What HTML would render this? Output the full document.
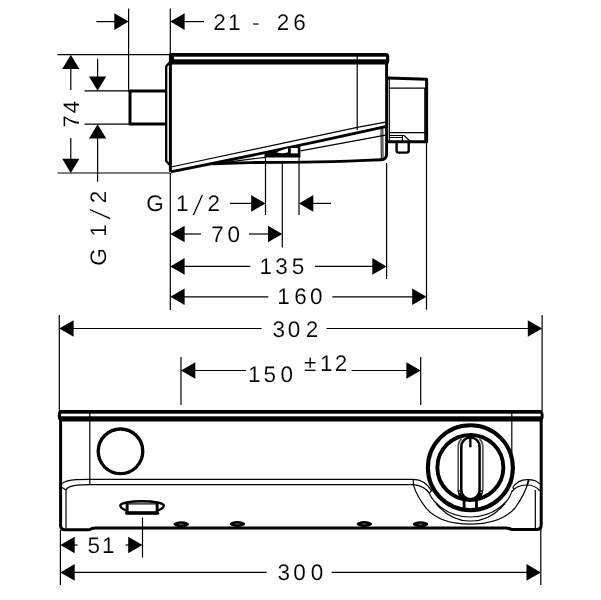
<!DOCTYPE html>
<html>
<head>
<meta charset="utf-8">
<title>Dimension drawing</title>
<style>
html,body{margin:0;padding:0;background:#fff;}
body{width:601px;height:600px;overflow:hidden;font-family:"Liberation Sans",sans-serif;}
svg{display:block;position:absolute;left:0;top:0;}
svg text{text-rendering:geometricPrecision;font-family:"Liberation Sans",sans-serif;font-size:22.5px;fill:#000;letter-spacing:0;stroke:#fff;stroke-width:0.12px;}
.t{stroke:#000;stroke-width:1.2;fill:none;}
.m{stroke:#000;stroke-width:1.6;fill:none;}
.k{stroke:#000;stroke-width:3;fill:none;stroke-linejoin:round;}
.a{fill:#000;stroke:none;}
</style>
</head>
<body>
<svg width="601" height="600" viewBox="0 0 601 600">
<rect x="0" y="0" width="601" height="600" fill="#fff"/>

<!-- ============ SIDE VIEW : extension / dimension lines ============ -->
<g class="t">
  <line x1="128.6" y1="8.4" x2="128.6" y2="92"/>
  <line x1="170.3" y1="8.4" x2="170.3" y2="54"/>
  <line x1="96.4" y1="21.6" x2="115" y2="21.6"/>
  <line x1="184" y1="21.6" x2="204" y2="21.6"/>
  <line x1="57.5" y1="54.7" x2="170" y2="54.7"/>
  <line x1="57.5" y1="173" x2="170" y2="173"/>
  <line x1="84.5" y1="90.8" x2="129" y2="90.8"/>
  <line x1="84.5" y1="124.2" x2="129" y2="124.2"/>
  <line x1="70.8" y1="68" x2="70.8" y2="90"/>
  <line x1="70.8" y1="138" x2="70.8" y2="160"/>
  <line x1="97.6" y1="58.8" x2="97.6" y2="78"/>
  <line x1="97.6" y1="138" x2="97.6" y2="181.7"/>
  <line x1="170.3" y1="173" x2="170.3" y2="310"/>
  <line x1="265.5" y1="157" x2="265.5" y2="215"/>
  <line x1="282.3" y1="159" x2="282.3" y2="247.5"/>
  <line x1="299" y1="157" x2="299" y2="215"/>
  <line x1="386.6" y1="163" x2="386.6" y2="279"/>
  <line x1="426.5" y1="143" x2="426.5" y2="309.7"/>
  <line x1="230" y1="203.4" x2="252" y2="203.4"/>
  <line x1="313" y1="203.4" x2="331" y2="203.4"/>
  <line x1="184" y1="234" x2="201" y2="234"/>
  <line x1="249" y1="234" x2="269" y2="234"/>
  <line x1="184" y1="266.4" x2="250.3" y2="266.4"/>
  <line x1="315" y1="266.4" x2="373" y2="266.4"/>
  <line x1="184" y1="296.8" x2="268.3" y2="296.8"/>
  <line x1="332.3" y1="296.8" x2="413" y2="296.8"/>
</g>
<g class="a">
  <polygon points="128.6,21.6 114.3,13.3 114.3,29.9"/>
  <polygon points="170.3,21.6 184.6,13.3 184.6,29.9"/>
  <polygon points="70.8,54.7 62.2,69 79.4,69"/>
  <polygon points="70.8,173 62.2,158.7 79.4,158.7"/>
  <polygon points="97.6,90.8 89.0,76.5 106.2,76.5"/>
  <polygon points="97.6,124.2 89.0,138.5 106.2,138.5"/>
  <polygon points="265.5,203.4 251.2,195.1 251.2,211.7"/>
  <polygon points="299,203.4 313.3,195.1 313.3,211.7"/>
  <polygon points="170.3,234 184.6,225.7 184.6,242.3"/>
  <polygon points="282.3,234 268.0,225.7 268.0,242.3"/>
  <polygon points="170.3,266.4 184.6,258.1 184.6,274.7"/>
  <polygon points="386.6,266.4 372.3,258.1 372.3,274.7"/>
  <polygon points="170.3,296.8 184.6,288.5 184.6,305.1"/>
  <polygon points="426.5,296.8 412.2,288.5 412.2,305.1"/>
</g>

<!-- ============ SIDE VIEW : body ============ -->
<!-- inlet nub -->
<path class="k" d="M166 91.1 H130 V124 H166"/>
<!-- left bracket thin -->
<path class="m" d="M169.6 62.6 L166.2 66.2 V161 L169.6 164.6" style="stroke-width:2.3;stroke-linejoin:round"/>
<!-- left thick edge -->
<path class="k" d="M170.4 55 V172"/>
<!-- top plate -->
<path class="a" d="M169.2 53 H386 Q389.2 53 389.2 56.5 V61 Q389.2 64.5 386 64.5 H169.2 Z"/>
<rect x="174" y="56.7" width="212" height="2.6" fill="#fff"/>
<!-- right edge + bottom -->
<path class="k" d="M386.6 62 V154 Q386.6 159.7 381 159.8 L365 160.4 Q330 162 305 162.1 L250 162.6 L213 163.8" style="stroke-width:2.9"/>
<!-- slanted thick -->
<path class="k" d="M170.6 171.8 Q278 150.5 385.5 126.6" style="stroke-width:2.9"/>
<!-- slanted thin upper -->
<path class="t" d="M171 167 L357.2 127.4 L385.5 122.2"/>
<!-- thin verticals -->
<path class="t" d="M357.2 55 V130"/>
<path class="t" d="M382.8 128.2 L383 159" style="stroke-width:1"/>
<path class="t" d="M381 128.8 L381.3 159" style="stroke-width:1"/>
<!-- lower thin slanted -->
<path class="t" d="M226 162.4 L265 157.3"/>
<path class="t" d="M300.5 150.9 L385.5 135.2"/>
<!-- detail blob -->
<path class="a" d="M264.5 152.7 L300.4 145.1 V157.4 H264.5 Z"/>
<path d="M276.5 152.2 Q282 149.8 288 148.3 V152.2 Q282 154.2 276.5 152.2 Z" fill="#fff"/>
<rect x="290.8" y="148" width="7" height="5.4" fill="#fff"/>
<rect x="266.3" y="158.2" width="32" height="2.6" fill="#fff"/>
<!-- connector box -->
<path class="k" d="M387.5 78 L426.6 79.3 V141.8 H387.5"/>
<path class="t" d="M389.3 79 V141"/>
<path class="t" d="M389.3 88.2 H424.8 V140.5"/>
<path class="t" d="M389.3 132.6 H424.8"/>
<path class="t" d="M389.3 135.5 H404 L410.6 141.5"/>
<path class="t" d="M389.3 137.5 H402.4 M402.4 135.5 V141.5"/>
<path class="k" d="M396.6 142 V150.5 Q396.6 152.6 398.8 152.6 H406.5 Q408.7 152.6 408.7 150.5 V142" style="stroke-width:2.4"/>

<!-- ============ FRONT VIEW : dimension lines ============ -->
<g class="t">
  <line x1="59.3" y1="315" x2="59.3" y2="412"/>
  <line x1="542.1" y1="315" x2="542.1" y2="411"/>
  <line x1="73" y1="328.5" x2="261.6" y2="328.5"/>
  <line x1="326.5" y1="328.5" x2="528" y2="328.5"/>
  <line x1="181" y1="357" x2="181" y2="405"/>
  <line x1="420.7" y1="357" x2="420.7" y2="405"/>
  <line x1="195" y1="370.5" x2="246" y2="370.5"/>
  <line x1="351.5" y1="370.5" x2="407" y2="370.5"/>
  <line x1="60.4" y1="530" x2="60.4" y2="585"/>
  <line x1="540.8" y1="529" x2="540.8" y2="585"/>
  <line x1="142.5" y1="517.5" x2="142.5" y2="557.5"/>
  <line x1="74" y1="545" x2="77.6" y2="545"/>
  <line x1="125.6" y1="545" x2="129.5" y2="545"/>
  <line x1="74" y1="572.4" x2="266.7" y2="572.4"/>
  <line x1="331.7" y1="572.4" x2="527" y2="572.4"/>
</g>
<g class="a">
  <polygon points="59.3,328.5 73.6,320.2 73.6,336.8"/>
  <polygon points="542.1,328.5 527.8,320.2 527.8,336.8"/>
  <polygon points="181,370.5 195.3,362.2 195.3,378.8"/>
  <polygon points="420.7,370.5 406.4,362.2 406.4,378.8"/>
  <polygon points="60.4,545 74.7,536.7 74.7,553.3"/>
  <polygon points="142.5,545 128.2,536.7 128.2,553.3"/>
  <polygon points="60.4,572.4 74.7,564.1 74.7,580.7"/>
  <polygon points="540.8,572.4 526.5,564.1 526.5,580.7"/>
</g>

<!-- ============ FRONT VIEW : body ============ -->
<!-- top plate -->
<rect class="a" x="57.8" y="410" width="485.8" height="11.5" rx="3.4" ry="5"/>
<rect x="61" y="413.7" width="479.6" height="2.6" fill="#fff"/>
<!-- outline -->
<path class="k" d="M60.6 420 V525.5 Q60.6 529.8 65 529.8 H88 Q90 529.8 91.5 528.6 Q93 527.9 96 527.9 H506 Q508 527.9 509.5 528.6 Q511 529.5 513 529.5 H536.5 Q541.2 529.5 541.2 525 V420"/>
<!-- thin interior -->
<path class="t" d="M89.8 412 V484.6"/>
<path class="t" d="M511.8 412 V484"/>
<path class="t" d="M62.2 483.4 Q66 480.3 76 479.6 L90 479.3 H413.3"/>
<path class="t" d="M62.2 487.4 L66 489.9"/>
<path class="t" d="M66 528 V490 Q67.5 486.7 74 485.6 Q80 484.7 90 484.6 H413.3 V479.3"/>
<path class="t" d="M535.3 490 V528"/>
<!-- circle button -->
<circle class="k" cx="120.5" cy="451.3" r="22.3" style="stroke-width:3.3"/>
<!-- drain -->
<path class="m" d="M120.3 505.6 A21.75 4.4 0 0 1 163.8 505.6 A21.75 7 0 0 1 120.3 505.6 Z" style="stroke-width:2.4"/>
<rect x="127.1" y="503.9" width="30" height="10" fill="#fff"/>
<path class="t" d="M127 503.9 H157.2"/>
<path class="k" d="M127.15 503 V512.8 H157.1 V503" style="stroke-width:2.9;stroke-linejoin:round"/>
<path class="k" d="M126.6 513.2 H157.7" style="stroke-width:3;stroke-linecap:round"/>
<!-- screw holes -->
<ellipse class="a" cx="181.3" cy="524.2" rx="7.8" ry="2.9"/><ellipse cx="181.3" cy="524.2" rx="2.6" ry="0.7" fill="#555"/>
<ellipse class="a" cx="237.4" cy="524.0" rx="7.8" ry="2.9"/><ellipse cx="237.4" cy="524.0" rx="2.6" ry="0.7" fill="#555"/>
<ellipse class="a" cx="364.3" cy="524.0" rx="7.8" ry="2.9"/><ellipse cx="364.3" cy="524.0" rx="2.6" ry="0.7" fill="#555"/>
<ellipse class="a" cx="420.5" cy="524.2" rx="7.8" ry="2.9"/><ellipse cx="420.5" cy="524.2" rx="2.6" ry="0.7" fill="#555"/>
<!-- knob -->
<circle class="k" cx="470.4" cy="467.7" r="42.5" style="stroke-width:4.1"/>
<ellipse class="k" cx="470.35" cy="467.45" rx="33" ry="32.5" style="stroke-width:3.9"/>
<path d="M461.6 439 Q458.2 441.5 458.2 447 V490.5 M479.3 439 Q482.8 441.5 482.8 447 V490.5" fill="none" stroke="#555" stroke-width="1.7"/>
<path class="a" d="M457.4 490.3 H483.3 L482.2 495.3 L480.9 499.5 H459.8 L458.5 495.3 Z"/>
<path class="k" d="M461.3 490 V446.6 A9.15 9.15 0 0 1 479.6 446.6 V490 A9.15 9.15 0 0 1 461.3 490 Z" style="stroke-width:2.5;fill:#fff"/>
<circle cx="459.6" cy="492.3" r="0.7" fill="#ddd"/><circle cx="481.1" cy="492.3" r="0.7" fill="#ddd"/>
<path class="k" d="M470.35 437 V446.2" style="stroke-width:2.4;stroke-linecap:round"/>
<path class="k" d="M464.1 500 V510 M476.5 500 V510" style="stroke-width:2.8"/>
<!-- basin -->
<path class="t" d="M413.3 484.6 Q417 497 426.6 508.6 Q440 524 470.5 524.2 Q501 524 515 508 Q524 496 529 480.5"/>
<path class="t" d="M413.3 479.3 Q425 479.6 431.5 490.6 L429.2 493.2 Q425 486 413.3 484.6"/>
<path class="t" d="M429.2 493.2 Q431 497 434 501 A49.4 49.4 0 0 0 506.8 501 Q509.8 497 511.6 492.4"/>
<path class="t" d="M436 503.5 Q451 521.5 470.5 521 Q490 521.5 505 503.5"/>
<path class="t" d="M512.8 487.5 Q518 479.6 527 479.6 Q537 479.6 539.6 484"/>
<path class="t" d="M511.3 492 Q517 485 526.5 485 Q535 485 539.6 490.5"/>
<path class="t" d="M528.4 479.8 L527 485"/>
<path class="t" d="M512.9 487.3 L514.2 490.2"/>

<!-- ============ TEXT ============ -->
<g style="opacity:0.999">
<text x="213.2 228.1" y="30">21</text>
<text x="252.1" y="30">-</text>
<text x="276.8 293.2" y="30">26</text>
<text transform="translate(79,127.8) rotate(-90)" x="0 14.6">74</text>
<text transform="translate(106.2,265.8) rotate(-90)" x="0 29 62.5">G12</text>
<text transform="translate(110.2,219.8) rotate(-90) skewX(-10)" style="font-size:28px;stroke-width:0.6px">/</text>
<text x="146.2 176.1 207.6" y="211">G12</text>
<text transform="translate(192.3,215.2) skewX(-10)" style="font-size:28px;stroke-width:0.6px">/</text>
<text x="211.2 227.4" y="241.6">70</text>
<text x="259.4 275.3 291.8" y="274.2">135</text>
<text x="277.2 294.2 310.1" y="304.4">160</text>
<text x="272.5 287.7 305.7" y="336.7">302</text>
<text x="248.1 263.4 280.4" y="381.6">150</text>
<text x="304 320.1 334.8" y="370.6">±12</text>
<text x="87.4 102.1" y="553">51</text>
<text x="277.5 293.2 310.8" y="580.4">300</text>
</g>
</svg>
</body>
</html>
